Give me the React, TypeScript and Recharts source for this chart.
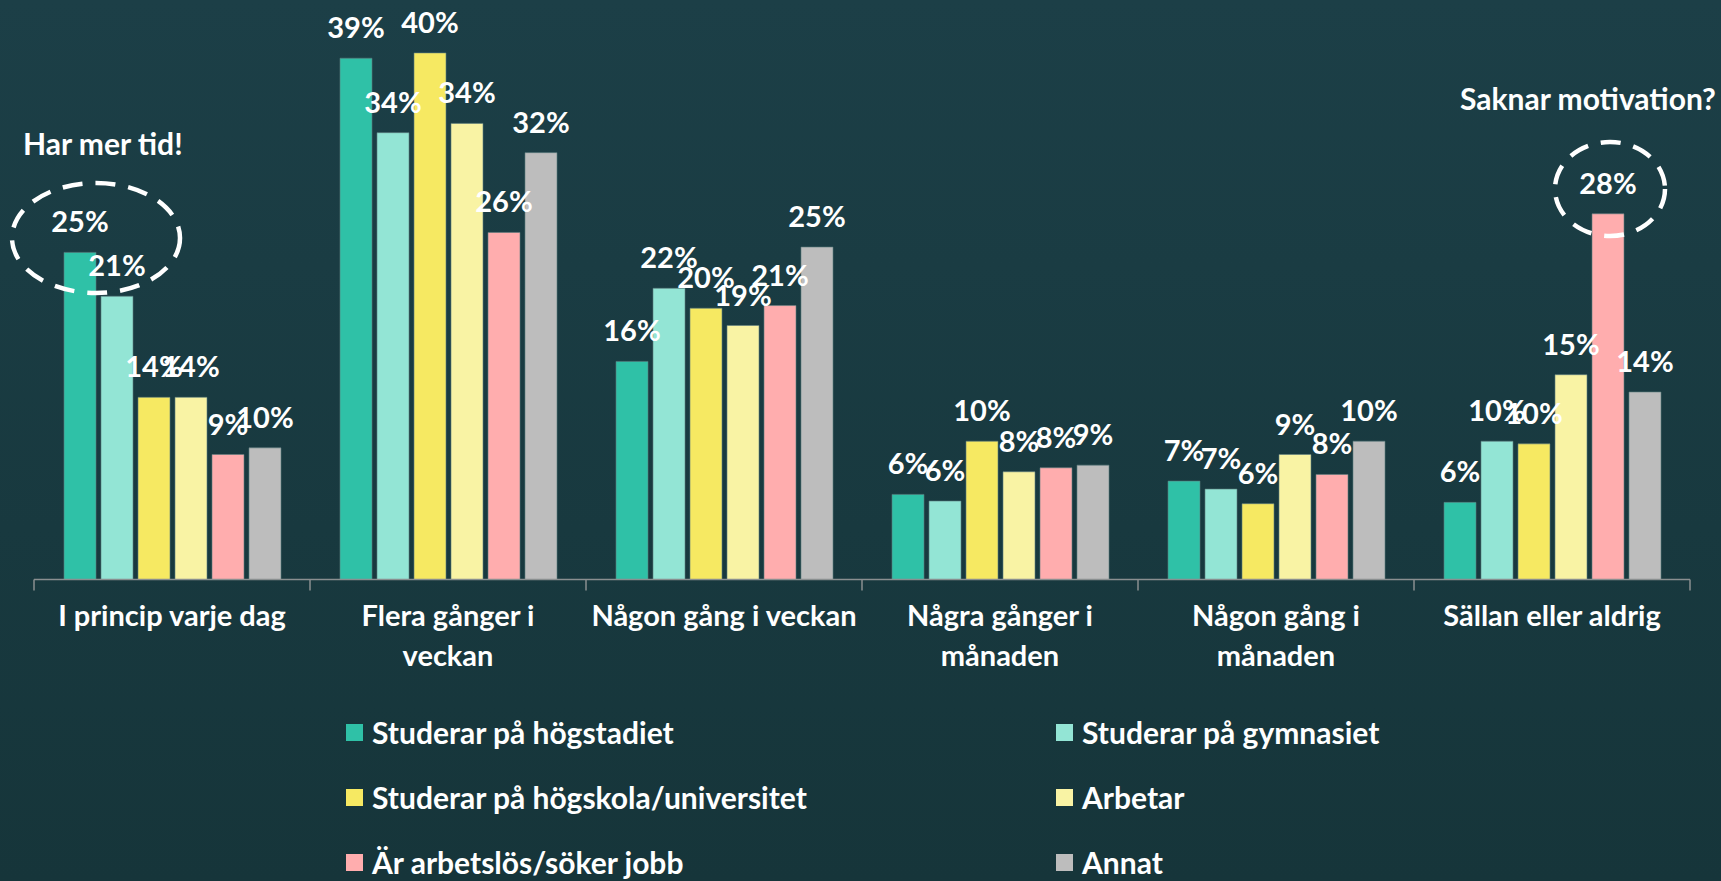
import React from "react";
import { BarChart, Bar, XAxis, YAxis, LabelList, Legend } from "recharts";

const categories = [
  "I princip varje dag",
  "Flera gånger i veckan",
  "Någon gång i veckan",
  "Några gånger i månaden",
  "Någon gång i månaden",
  "Sällan eller aldrig",
];

// how the axis wraps each category
const tickLabels = [
  ["I princip varje dag"],
  ["Flera gånger i", "veckan"],
  ["Någon gång i veckan"],
  ["Några gånger i", "månaden"],
  ["Någon gång i", "månaden"],
  ["Sällan eller aldrig"],
];

const seriesNames = [
  "Studerar på högstadiet",
  "Studerar på gymnasiet",
  "Studerar på högskola/universitet",
  "Arbetar",
  "Är arbetslös/söker jobb",
  "Annat",
];

const hogstadiet = [24.6, 39.2, 16.4, 6.4, 7.4, 5.8];
const gymnasiet = [21.3, 33.6, 21.9, 5.9, 6.8, 10.4];
const hogskola = [13.7, 39.6, 20.4, 10.4, 5.7, 10.2];
const arbetar = [13.7, 34.3, 19.1, 8.1, 9.4, 15.4];
const arbetslos = [9.4, 26.1, 20.6, 8.4, 7.9, 27.5];
const annat = [9.9, 32.1, 25.0, 8.6, 10.4, 14.1];

const seriesValues = [hogstadiet, gymnasiet, hogskola, arbetar, arbetslos, annat];
const seriesColors = ["#2fc1a7", "#93e5d5", "#f6e962", "#f9f3a4", "#ffadae", "#bdbdbd"];

const chartData = categories.map((name, i) => {
  const row: Record<string, string | number> = { name };
  seriesValues.forEach((vals, s) => {
    row[`s${s}`] = vals[i];
  });
  return row;
});

const FONT = "Lato, 'Open Sans', sans-serif";

function CategoryTick(props: any) {
  const { x, y, payload, index } = props;
  const half = payload?.offset || 138;
  const lines = tickLabels[index] || [String(payload?.value)];
  return (
    <g>
      <line x1={x - half} x2={x - half} y1={y} y2={y + 11} stroke="#8a8f90" strokeWidth={1.5} />
      {index === categories.length - 1 && (
        <line x1={x + half} x2={x + half} y1={y} y2={y + 11} stroke="#8a8f90" strokeWidth={1.5} />
      )}
      <text x={x} y={y + 46} textAnchor="middle" fill="#ffffff" fontSize={29} fontWeight={700}>
        {lines.map((l, i) => (
          <tspan key={i} x={x} dy={i === 0 ? 0 : 40}>
            {l}
          </tspan>
        ))}
      </text>
    </g>
  );
}

// legend in the original series order, two columns
function LegendGrid() {
  return (
    <div
      style={{
        display: "grid",
        gridTemplateColumns: "710px 480px",
        fontFamily: FONT,
        fontWeight: 700,
        fontSize: 30,
        color: "#ffffff",
      }}
    >
      {seriesNames.map((name, i) => (
        <div key={name} style={{ display: "flex", alignItems: "center", height: 65 }}>
          <span
            style={{
              display: "inline-block",
              width: 17,
              height: 17,
              background: seriesColors[i],
              marginRight: 9,
            }}
          />
          <span style={{ lineHeight: "65px", whiteSpace: "nowrap" }}>{name}</span>
        </div>
      ))}
    </div>
  );
}

export default function App() {
  return (
    <div
      style={{
        position: "absolute",
        left: 0,
        top: 0,
        width: 1721,
        height: 881,
        background: "linear-gradient(180deg, #1c3f47 0%, #18393f 60%, #16353a 100%)",
        fontFamily: FONT,
        overflow: "hidden",
      }}
    >
      <BarChart
        width={1721}
        height={881}
        data={chartData}
        margin={{ top: 21, right: 31, left: 34, bottom: 241.5 }}
        barSize={32}
        barGap={5}
      >
        <XAxis
          dataKey="name"
          height={60}
          interval={0}
          tickSize={0}
          tickMargin={0}
          tickLine={false}
          axisLine={{ stroke: "#8a8f90", strokeWidth: 1.5 }}
          tick={<CategoryTick />}
        />
        <YAxis hide domain={[0, 42]} />
        <Legend
          layout="vertical"
          verticalAlign="middle"
          align="center"
          wrapperStyle={{ left: 346, top: 700, width: 1250, height: 195 }}
          content={<LegendGrid />}
        />
        {seriesNames.map((name, s) => (
          <Bar
            key={name}
            dataKey={`s${s}`}
            name={name}
            fill={seriesColors[s]}
            stroke="#5f7f80"
            strokeOpacity={0.6}
            strokeWidth={1}
            isAnimationActive={false}
          >
            <LabelList
              dataKey={`s${s}`}
              position="top"
              offset={20}
              fill="#ffffff"
              fontSize={29}
              fontWeight={700}
              formatter={(v: any) => `${Math.round(Number(v))}%`}
            />
          </Bar>
        ))}
      </BarChart>
      <svg
        width={1721}
        height={881}
        style={{ position: "absolute", left: 0, top: 0, pointerEvents: "none" }}
      >
        <text x={23} y={155} fill="#ffffff" fontSize={30} fontWeight={700}>
          Har mer tid!
        </text>
        <ellipse
          cx={96}
          cy={238}
          rx={84}
          ry={55}
          fill="none"
          stroke="#ffffff"
          strokeWidth={4.5}
          strokeDasharray="20 13"
        />
        <text x={1460} y={110} fill="#ffffff" fontSize={30} fontWeight={700}>
          Saknar motivation?
        </text>
        <ellipse
          cx={1610}
          cy={189}
          rx={55}
          ry={47}
          fill="none"
          stroke="#ffffff"
          strokeWidth={4.5}
          strokeDasharray="20 13"
        />
      </svg>
    </div>
  );
}
